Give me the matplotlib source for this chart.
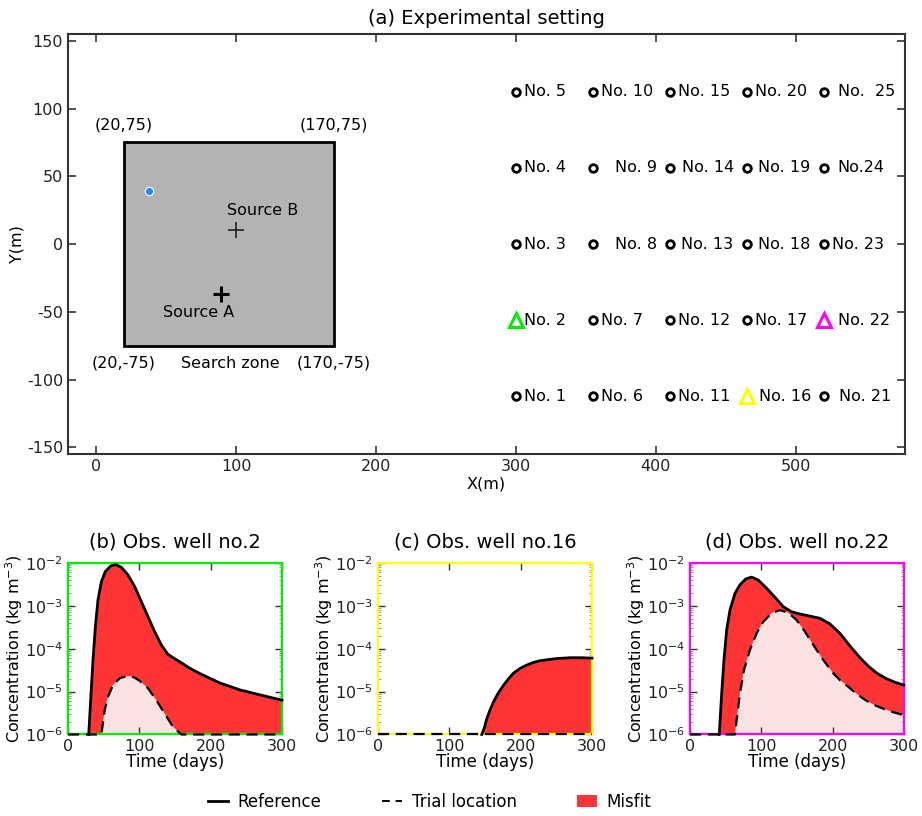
import numpy as np
import matplotlib
matplotlib.use('Agg')
from matplotlib import pyplot as plt
from matplotlib.patches import Rectangle, Patch
from matplotlib.lines import Line2D

plt.rcParams['axes.unicode_minus'] = False

# --- (a) layout data ---
well_x = [300, 355, 410, 465, 520]
well_y = [-112.5, -56.25, 0, 56.25, 112.5]
well_labels = ['No. 1', 'No. 2', 'No. 3', 'No. 4', 'No. 5',
               'No. 6', 'No. 7', 'No. 8', 'No. 9', 'No. 10',
               'No. 11', 'No. 12', 'No. 13', 'No. 14', 'No. 15',
               'No. 16', 'No. 17', 'No. 18', 'No. 19', 'No. 20',
               'No. 21', 'No. 22', 'No. 23', 'No.24', 'No.  25']
label_shift = [6, 6, 6, 6, 6,
               6, 6, 16, 16, 6,
               6, 6, 8, 9, 6,
               9, 6, 8, 8, 6,
               11, 10, 6, 10, 10]
# wells highlighted with triangles: number -> colour
picked = {2: '#00ee00', 16: '#ffff00', 22: '#ff00ff'}

zone_x = [20, 170]
zone_y = [-75, 75]
source_a = (89, -37)
source_b = (100, 10)
trial_pt = (38, 39)

# --- concentration curves (days, log10 kg m^-3) ---
ref_b_day = [29, 31.7, 35, 38.3, 42, 46.7, 52.3, 59.8, 66.8, 74.7, 84, 93.4,
             102.7, 112, 121.4, 130.7, 140, 154, 162, 170, 185, 200, 213,
             241, 270, 300]
ref_b_log = [-6, -5.2, -4.26, -3.49, -2.86, -2.44, -2.2, -2.07, -2.04, -2.1,
             -2.28, -2.55, -2.9, -3.25, -3.6, -3.91, -4.13, -4.28, -4.36, -4.45,
             -4.58, -4.7, -4.8, -4.96, -5.08, -5.2]
trial_b_day = [0, 46.7, 51.4, 56, 63, 72.4, 80, 86, 93, 100.4, 112, 123.7,
               135.4, 147, 159, 300]
trial_b_log = [-6, -6, -5.43, -5.12, -4.85, -4.69, -4.65, -4.64, -4.67, -4.75,
               -4.92, -5.2, -5.51, -5.82, -6, -6]

ref_c_day = [145.5, 149, 152.5, 157, 161.9, 168, 176, 183, 190, 199, 208.7,
             218, 227, 240, 250.8, 269.5, 285, 300]
ref_c_log = [-6, -5.85, -5.63, -5.43, -5.24, -5.05, -4.85, -4.7, -4.57, -4.46,
             -4.38, -4.32, -4.28, -4.25, -4.23, -4.21, -4.21, -4.22]
trial_c_day = [0, 300]
trial_c_log = [-6, -6]

ref_d_day = [41, 44.4, 47.6, 51.4, 56, 63, 70, 78.4, 86.4, 95.7, 107.4, 119,
             130.7, 142.4, 154, 168, 182, 196, 210, 227.4, 240, 250.8, 262,
             274.2, 287, 300]
ref_d_log = [-6, -5.04, -4.26, -3.56, -3.1, -2.71, -2.51, -2.37, -2.33, -2.4,
             -2.59, -2.8, -3.02, -3.14, -3.19, -3.24, -3.29, -3.42, -3.64, -4.0,
             -4.24, -4.42, -4.57, -4.69, -4.78, -4.85]
trial_d_day = [0, 63, 65.4, 70, 75.6, 84, 93.4, 102.7, 114.4, 126, 137.7, 149.4,
               161, 172.7, 186.7, 200.7, 210, 222.7, 234, 246, 258, 269.5,
               285, 300]
trial_d_log = [-6, -6, -5.66, -5.04, -4.5, -4.03, -3.64, -3.37, -3.17, -3.1,
               -3.16, -3.33, -3.6, -3.91, -4.26, -4.57, -4.73, -4.9, -5.06,
               -5.2, -5.31, -5.39, -5.48, -5.55]

panels = [
    ('(b) Obs. well no.2', '#00ee00', ref_b_day, ref_b_log, trial_b_day, trial_b_log),
    ('(c) Obs. well no.16', '#ffff00', ref_c_day, ref_c_log, trial_c_day, trial_c_log),
    ('(d) Obs. well no.22', '#ff00ff', ref_d_day, ref_d_log, trial_d_day, trial_d_log),
]

MISFIT = '#ff3535'
PALE = '#fbe2e2'
INK = '#222222'

fig = plt.figure(figsize=(9.22, 8.16), dpi=100)

# ---------------- (a) ----------------
ax = fig.add_axes([0.0738, 0.4436, 0.9078, 0.5147])
ax.add_patch(Rectangle((zone_x[0], zone_y[0]), zone_x[1] - zone_x[0], zone_y[1] - zone_y[0],
                       facecolor='#b3b3b3', edgecolor='black', lw=2, zorder=1))
fs = 11.5
ax.text(zone_x[0], 88, '(%d,%d)' % (zone_x[0], zone_y[1]), ha='center', va='center', fontsize=fs)
ax.text(zone_x[1], 88, '(%d,%d)' % (zone_x[1], zone_y[1]), ha='center', va='center', fontsize=fs)
ax.text(zone_x[0], -88, '(%d,%d)' % (zone_x[0], zone_y[0]), ha='center', va='center', fontsize=fs)
ax.text(zone_x[1], -88, '(%d,%d)' % (zone_x[1], zone_y[0]), ha='center', va='center', fontsize=fs)
ax.text(96, -88, 'Search zone', ha='center', va='center', fontsize=fs)

ax.plot(*source_a, marker='+', color='black', ms=11, mew=2.2, zorder=3)
ax.text(73, -50.5, 'Source A', ha='center', va='center', fontsize=fs)
ax.plot(*source_b, marker='+', color='#222222', ms=11, mew=1.2, zorder=3)
ax.text(119, 25, 'Source B', ha='center', va='center', fontsize=fs)
ax.plot(*trial_pt, marker='o', color='#1e8fff', mec='white', mew=0.8, ms=6, zorder=3)

for i, lab in enumerate(well_labels):
    col, row = divmod(i, 5)
    x, y = well_x[col], well_y[row]
    num = i + 1
    if num in picked:
        ax.plot(x, y, marker='^', ms=10, mfc='none', mec=picked[num], mew=2.2, zorder=4)
    else:
        ax.plot(x, y, marker='o', ms=5.5, mfc='none', mec='black', mew=2, zorder=4)
    ax.text(x + label_shift[i], y, lab, ha='left', va='center', fontsize=fs)

ax.set_xlim(-20, 578)
ax.set_ylim(-155, 155)
ax.set_xticks(np.arange(0, 501, 100))
ax.set_yticks(np.arange(-150, 151, 50))
ax.tick_params(direction='in', top=True, right=True, length=6, width=1.2,
               labelsize=11.5, colors='#333333', labelcolor=INK)
for s in ax.spines.values():
    s.set_color('#333333')
    s.set_linewidth(1.5)
ax.set_xlabel('X(m)', fontsize=11.5, labelpad=2)
ax.set_ylabel('Y(m)', fontsize=11.5, labelpad=2)
ax.set_title('(a) Experimental setting', fontsize=14, pad=7)

# ---------------- (b)-(d) ----------------
lefts = [0.0738, 0.41, 0.7484]
for left, (title, edge, rd, rl, td, tl) in zip(lefts, panels):
    a = fig.add_axes([left, 0.0999, 0.2321, 0.2102])
    rv = np.power(10.0, rl)
    tv = np.power(10.0, tl)
    a.fill_between(td, 1e-6, tv, color=PALE, lw=0, zorder=1)
    poly_x = list(rd) + list(td)[::-1]
    poly_y = list(rv) + list(tv)[::-1]
    a.fill(poly_x, poly_y, color=MISFIT, lw=0, zorder=2)
    a.plot(rd, rv, color='black', lw=2, zorder=4, clip_on=False,
           solid_joinstyle='round')
    a.plot(td, tv, color='black', lw=1.6, ls=(0, (5, 3)), zorder=4, clip_on=False)
    a.set_yscale('log')
    a.set_xlim(0, 300)
    a.set_ylim(1e-6, 1e-2)
    a.set_xticks([0, 100, 200, 300])
    a.set_yticks([1e-6, 1e-5, 1e-4, 1e-3, 1e-2])
    a.tick_params(which='major', direction='in', top=True, right=True, length=5,
                  width=1, labelsize=11.5, colors='#333333', labelcolor=INK)
    a.tick_params(which='minor', direction='in', top=True, right=True, length=2,
                  width=0.6, colors='#888888')
    a.yaxis.set_minor_formatter(matplotlib.ticker.NullFormatter())
    for s in a.spines.values():
        s.set_color(edge)
        s.set_linewidth(1.6)
    a.set_xlabel('Time (days)', fontsize=12, labelpad=-1)
    a.set_ylabel('Concentration (kg m$^{-3}$)', fontsize=11.5)
    a.yaxis.set_label_coords(-0.2, 0.5)
    a.set_title(title, fontsize=14, pad=11)

handles = [Line2D([], [], color='black', lw=2),
           Line2D([], [], color='black', lw=1.4, ls=(0, (4, 3))),
           Patch(facecolor=MISFIT, edgecolor='none')]
fig.legend(handles, ['Reference', 'Trial location', 'Misfit'], loc='center',
           bbox_to_anchor=(0.466, 0.017), ncol=3, frameon=False, fontsize=12,
           handlelength=1.2, handletextpad=0.6, columnspacing=3.6)

fig.savefig('out.png', dpi=100)
